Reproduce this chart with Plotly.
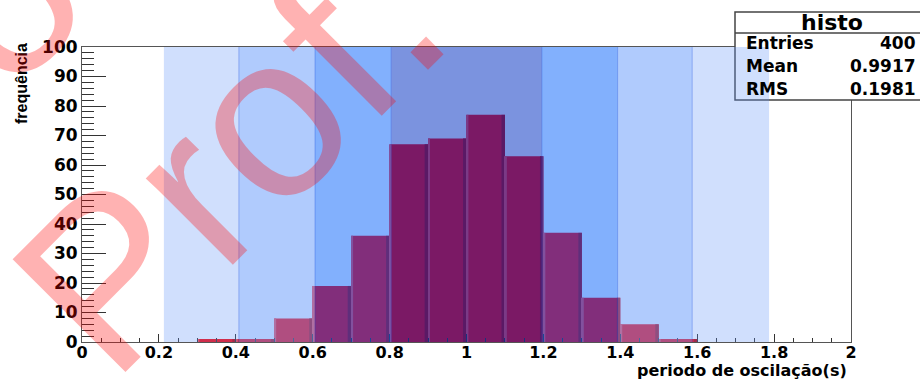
import plotly.graph_objects as go

# ---------------- data ----------------
bin_left = [0.3, 0.4, 0.5, 0.6, 0.7, 0.8, 0.9, 1.0, 1.1, 1.2, 1.3, 1.4, 1.5]
counts = [1, 1, 8, 19, 36, 67, 69, 77, 63, 37, 15, 6, 1]
bin_width = 0.1

# shaded bands (x ranges), from outermost to innermost
band_low = [0.213, 0.408, 0.606, 0.804]
band_high = [1.787, 1.587, 1.393, 1.196]

hist_name = "histo"
stats_labels = ["Entries", "Mean", "RMS"]
stats_values = ["400", "0.9917", "0.1981"]

x_title = "periodo de oscilação(s)"
y_title = "frequência"
watermark = "Prof."

# ---------------- layout helpers (pixels -> paper) ----------------
L, R, T, B = 82, 851, 47, 342
def px(x):
    return (x - L) / (R - L)
def py(y):
    return (B - y) / (B - T)

FONT = "DejaVu Sans"

fig = go.Figure()

centers = [b + bin_width / 2 for b in bin_left]
fig.add_trace(go.Bar(x=centers, y=counts, width=bin_width,
                     marker=dict(color="rgb(255,0,0)", line=dict(width=0)),
                     hoverinfo="skip"))
# 3D-like bar edges
fig.add_trace(go.Bar(x=[b + bin_width - 0.0045 for b in bin_left], y=counts, width=0.009,
                     marker=dict(color="rgb(186,0,0)", line=dict(width=0)),
                     hoverinfo="skip"))
fig.add_trace(go.Bar(x=[b + 0.0025 for b in bin_left], y=counts, width=0.005,
                     marker=dict(color="rgb(255,70,70)", line=dict(width=0)),
                     hoverinfo="skip"))

shapes = []
# stats box (white, covers frame)
shapes.append(dict(type="rect", xref="paper", yref="paper",
                   x0=px(735), x1=px(925), y0=py(100), y1=py(12),
                   fillcolor="white", line=dict(color="#444", width=1.5), layer="above"))
shapes.append(dict(type="line", xref="paper", yref="paper",
                   x0=px(735), x1=px(925), y0=py(33), y1=py(33),
                   line=dict(color="#444", width=1.5), layer="above"))

# band overlays (non-overlapping regions)
region_colors = ["rgba(98,148,248,0.30)", "rgba(100,153,251,0.51)",
                 "rgba(0,94,251,0.49)", "rgba(1,47,193,0.52)"]
for k in range(4):
    lo_out = band_low[k]
    hi_out = band_high[k]
    if k < 3:
        lo_in = band_low[k + 1]
        hi_in = band_high[k + 1]
        segs = [(lo_out, lo_in), (hi_in, hi_out)]
    else:
        segs = [(lo_out, hi_out)]
    for a, b in segs:
        shapes.append(dict(type="rect", xref="x", yref="paper", x0=a, x1=b, y0=0, y1=1,
                           fillcolor=region_colors[k], line=dict(width=0), layer="above"))
for edge in band_low[1:] + band_high[1:]:
    shapes.append(dict(type="line", xref="x", yref="paper", x0=edge, x1=edge, y0=0, y1=1,
                       line=dict(color="rgba(30,80,220,0.35)", width=1), layer="above"))

annotations = []
# stats text
annotations.append(dict(xref="paper", yref="paper", x=px(832), y=py(22), text=hist_name,
                        showarrow=False, xanchor="center", yanchor="middle",
                        font=dict(family=FONT, size=22, weight="bold", color="black")))
rows_y = [43, 66, 89]
for lab, val, yy in zip(stats_labels, stats_values, rows_y):
    annotations.append(dict(xref="paper", yref="paper", x=px(744), y=py(yy), text=lab,
                            showarrow=False, xanchor="left", yanchor="middle",
                            font=dict(family=FONT, size=17, weight="bold", color="black")))
    annotations.append(dict(xref="paper", yref="paper", x=px(918), y=py(yy), text=val,
                            showarrow=False, xanchor="right", yanchor="middle",
                            font=dict(family=FONT, size=17, weight="bold", color="black")))
# axis titles
annotations.append(dict(xref="paper", yref="paper", x=px(849), y=py(382), text=x_title,
                        showarrow=False, xanchor="right", yanchor="bottom",
                        font=dict(family=FONT, size=16, weight="bold", color="black")))
annotations.append(dict(xref="paper", yref="paper", x=px(22), y=py(83), text=y_title,
                        showarrow=False, xanchor="center", yanchor="middle", textangle=-90,
                        font=dict(family="Liberation Sans", size=16, weight="bold", color="black")))
# watermark
annotations.append(dict(xref="paper", yref="paper", x=px(228), y=py(155), text=watermark,
                        showarrow=False, xanchor="center", yanchor="middle", textangle=-45,
                        font=dict(family="Liberation Sans", size=232, color="rgba(255,0,0,0.3)")))
annotations.append(dict(xref="paper", yref="paper", x=px(-4), y=py(-4), text="o",
                        showarrow=False, xanchor="center", yanchor="middle", textangle=-45,
                        font=dict(family="Liberation Sans", size=232, color="rgba(255,0,0,0.3)")))

tickfont = dict(family=FONT, size=16, weight="bold", color="black")
fig.update_layout(
    width=920, height=380,
    margin=dict(l=L, r=920 - R, t=T, b=380 - B),
    paper_bgcolor="white", plot_bgcolor="white",
    barmode="overlay", showlegend=False,
    shapes=shapes, annotations=annotations,
    xaxis=dict(range=[0, 2], dtick=0.2, tick0=0, ticks="inside", ticklen=8, tickwidth=1,
               tickcolor="#333", showgrid=False, zeroline=False, showline=True, mirror=True,
               linecolor="#555", linewidth=1, tickfont=tickfont, ticklabelstandoff=-4,
               minor=dict(ticks="inside", ticklen=4, dtick=0.05, tickcolor="#333", showgrid=False)),
    yaxis=dict(range=[0, 100], dtick=10, tick0=0, ticks="inside", ticklen=24, tickwidth=1,
               tickcolor="#333", showgrid=False, zeroline=False, showline=True, mirror=True,
               linecolor="#555", linewidth=1, tickfont=dict(family=FONT, size=17, weight="bold", color="black"),
               minor=dict(ticks="inside", ticklen=12, dtick=2, tickcolor="#333", showgrid=False)),
)

fig.write_html("out.html", config={"displayModeBar": False},
               post_script="document.body.style.margin='0';document.body.style.padding='0';")
